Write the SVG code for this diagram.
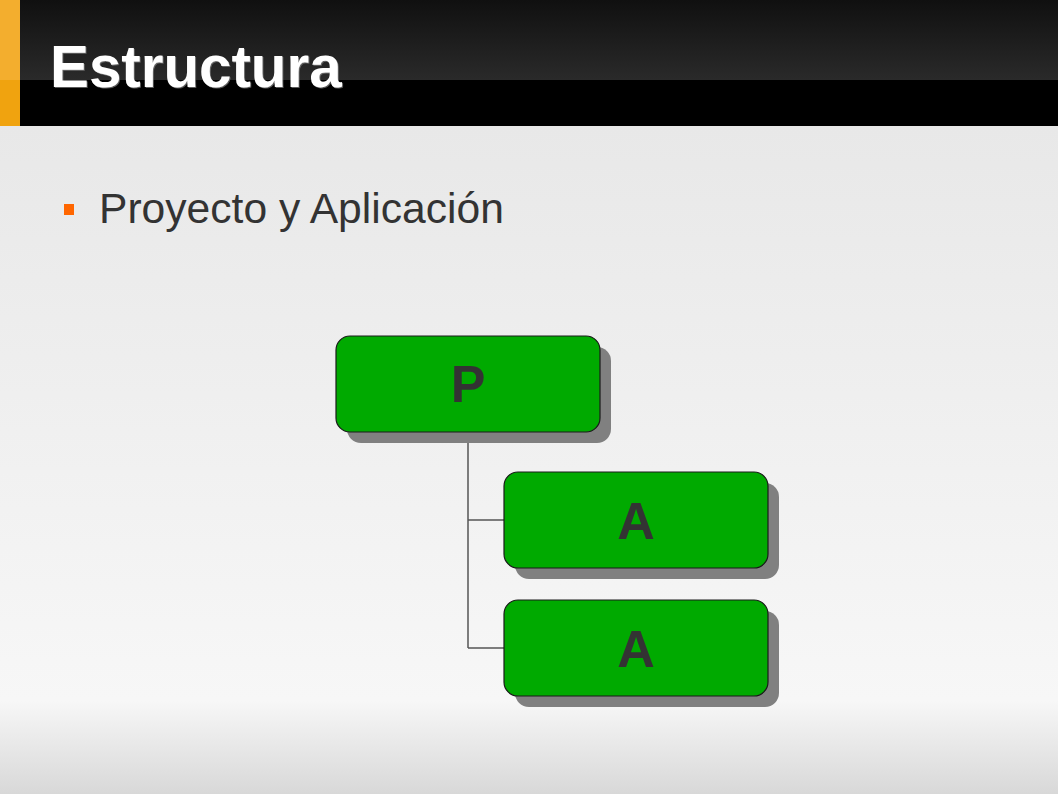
<svg xmlns="http://www.w3.org/2000/svg" width="1058" height="794" viewBox="0 0 1058 794">
  <defs>
    <linearGradient id="bg" x1="0" y1="0" x2="0" y2="1" gradientUnits="objectBoundingBox">
      <stop offset="0" stop-color="#e8e8e8"/>
      <stop offset="0.86" stop-color="#f7f7f7"/>
      <stop offset="1" stop-color="#d8d8d8"/>
    </linearGradient>
    <linearGradient id="hdr" x1="0" y1="0" x2="0" y2="1">
      <stop offset="0" stop-color="#101010"/>
      <stop offset="1" stop-color="#2a2a2a"/>
    </linearGradient>
    <filter id="tshadow" x="-5%" y="-5%" width="110%" height="120%">
      <feDropShadow dx="1" dy="1" stdDeviation="0.4" flood-color="#808080" flood-opacity="0.7"/>
    </filter>
    <style>
      .node rect.box { fill: #00aa00; stroke: #1a1a1a; stroke-width: 1.2; }
      .node rect.shadow { fill: #808080; }
      .node text { font-family: "Liberation Sans", Arial, sans-serif; font-weight: bold; font-size: 52px; fill: #333333; text-anchor: middle; }
      .conn { stroke: #555555; stroke-width: 1.5; fill: none; }
    </style>
  </defs>

  <!-- page background -->
  <rect x="0" y="126" width="1058" height="668" fill="url(#bg)"/>

  <!-- title bar -->
  <rect x="0" y="0" width="1058" height="80" fill="url(#hdr)"/>
  <rect x="0" y="80" width="1058" height="46" fill="#000000"/>
  <rect x="0" y="0" width="20" height="80" fill="#f3ae2e"/>
  <rect x="0" y="80" width="20" height="46" fill="#f0a30f"/>
  <text x="50" y="87" font-family="Liberation Sans, Arial, sans-serif" font-weight="bold" font-size="58.3" fill="#ffffff" filter="url(#tshadow)">Estructura</text>

  <!-- bullet line -->
  <rect x="64" y="204" width="10" height="11" fill="#ff6600"/>
  <text x="99" y="223" font-family="Liberation Sans, Arial, sans-serif" font-size="42.6" fill="#333333">Proyecto y Aplicación</text>

  <!-- connectors -->
  <g id="connectors">
    <path class="conn" d="M468 432 V648 M468 520 H504 M468 648 H504"/>
  </g>

  <!-- nodes -->
  <g id="node-p" class="node">
    <rect class="shadow" x="347" y="347" width="264" height="96" rx="14"/>
    <rect class="box" x="336" y="336" width="264" height="96" rx="14"/>
    <text x="468" y="402">P</text>
  </g>
  <g id="node-a1" class="node">
    <rect class="shadow" x="515" y="483" width="264" height="96" rx="14"/>
    <rect class="box" x="504" y="472" width="264" height="96" rx="14"/>
    <text x="636" y="539">A</text>
  </g>
  <g id="node-a2" class="node">
    <rect class="shadow" x="515" y="611" width="264" height="96" rx="14"/>
    <rect class="box" x="504" y="600" width="264" height="96" rx="14"/>
    <text x="636" y="667">A</text>
  </g>
</svg>
